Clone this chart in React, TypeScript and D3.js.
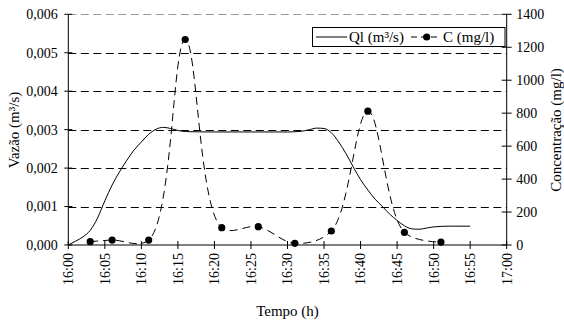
import React from "react";
import * as d3 from "d3";

// Time axis ticks (minutes after 16:00) and labels
const xTickMinutes = [0, 5, 10, 15, 20, 25, 30, 35, 40, 45, 50, 55, 60];
const xTickLabels = ["16:00", "16:05", "16:10", "16:15", "16:20", "16:25", "16:30", "16:35", "16:40", "16:45", "16:50", "16:55", "17:00"];

// Left axis ticks (flow)
const qTicks = [0, 0.001, 0.002, 0.003, 0.004, 0.005, 0.006];
const qTickLabels = ["0,000", "0,001", "0,002", "0,003", "0,004", "0,005", "0,006"];

// Right axis ticks (concentration)
const cTicks = [0, 200, 400, 600, 800, 1000, 1200, 1400];

// Series Ql (m³/s): minutes after 16:00
const qMinutes = [0, 1, 2, 3, 4, 5, 6, 7, 8, 9, 10, 11, 12, 13, 14, 15, 16, 20, 25, 30, 32, 33, 34, 35, 36, 37, 38, 39, 40, 41, 42, 43, 44, 45, 46, 47, 48, 49, 50, 52, 55];
const qValues = [0, 0.0001, 0.00021, 0.00038, 0.0007, 0.00115, 0.00156, 0.0019, 0.0022, 0.00247, 0.00268, 0.00288, 0.00301, 0.00306, 0.00303, 0.00298, 0.00295, 0.00294, 0.00294, 0.00294, 0.00296, 0.003, 0.00304, 0.00303, 0.00292, 0.00268, 0.00238, 0.00203, 0.0017, 0.00143, 0.00119, 0.001, 0.0008, 0.00064, 0.0005, 0.00042, 0.00041, 0.00044, 0.00047, 0.00049, 0.00049];

// Series C (mg/l)
const cMinutes = [3, 6, 11, 16, 21, 26, 31, 36, 41, 46, 51];
const cValues = [20, 30, 30, 1247, 105, 111, 10, 85, 812, 77, 18];

const W = 564;
const H = 322;
const L = 68.3;
const R = 506.7;
const T = 14.3;
const B = 245;
const FONT = "Liberation Serif, DejaVu Serif, serif";

export default function App() {
  const x = d3.scaleLinear().domain([0, 60]).range([L, R]);
  const yQ = d3.scaleLinear().domain([0, 0.006]).range([B, T]);
  const yC = d3.scaleLinear().domain([0, 1400]).range([B, T]);

  const qLine = d3
    .line<number>()
    .x((_, i) => x(qMinutes[i]))
    .y((d) => yQ(d))
    .curve(d3.curveMonotoneX);
  const cLine = d3
    .line<number>()
    .x((_, i) => x(cMinutes[i]))
    .y((d) => yC(d))
    .curve(d3.curveCatmullRom.alpha(0.5));

  const ts = { fontFamily: FONT };

  return (
    <svg
      width={W}
      height={H}
      style={{ position: "absolute", left: 0, top: 0, background: "#fff", fontFamily: FONT }}
    >
      <rect x={0} y={0} width={W} height={H} fill="#fff" />
      {/* gridlines */}
      {qTicks.slice(1).map((t, i) => (
        <line
          key={"g" + i}
          x1={L}
          x2={R}
          y1={Math.round(yQ(t)) + 0.5}
          y2={Math.round(yQ(t)) + 0.5}
          stroke={t === 0.006 ? "#999" : "#000"}
          strokeWidth={1}
          strokeDasharray="8,4.5"
        />
      ))}
      {/* axes */}
      <line x1={L} x2={L} y1={T} y2={B} stroke="#000" />
      <line x1={R} x2={R} y1={T} y2={B} stroke="#000" />
      <line x1={L} x2={R} y1={B} y2={B} stroke="#000" />
      {/* left ticks */}
      {qTicks.map((t, i) => (
        <g key={"lq" + i}>
          <line x1={L - 4} x2={L + 4} y1={yQ(t)} y2={yQ(t)} stroke="#000" />
          <text x={L - 10.5} y={yQ(t)} dy="0.35em" textAnchor="end" fontSize={14} style={ts}>
            {qTickLabels[i]}
          </text>
        </g>
      ))}
      {/* right ticks */}
      {cTicks.map((t, i) => (
        <g key={"rc" + i}>
          <line x1={R - 5} x2={R + 5} y1={yC(t)} y2={yC(t)} stroke="#000" />
          <text x={R + 9.5} y={yC(t)} dy="0.35em" textAnchor="start" fontSize={14} style={ts}>
            {t}
          </text>
        </g>
      ))}
      {/* bottom ticks */}
      {xTickMinutes.map((m, i) => (
        <g key={"bx" + i}>
          <line x1={x(m)} x2={x(m)} y1={B - 4} y2={B + 4} stroke="#000" />
          <text
            transform={`translate(${x(m)},${B + 8}) rotate(-90)`}
            dy="0.35em"
            textAnchor="end"
            fontSize={14}
            style={ts}
          >
            {xTickLabels[i]}
          </text>
        </g>
      ))}
      {/* series */}
      <path d={qLine(qValues) || ""} fill="none" stroke="#000" strokeWidth={1} />
      <path d={cLine(cValues) || ""} fill="none" stroke="#000" strokeWidth={1} strokeDasharray="8,5" />
      {cValues.map((v, i) => (
        <circle key={"c" + i} cx={x(cMinutes[i])} cy={yC(v)} r={3.6} fill="#000" />
      ))}
      {/* axis titles */}
      <text transform={`translate(19,130) rotate(-90)`} textAnchor="middle" fontSize={15} style={ts}>
        Vazão (m³/s)
      </text>
      <text transform={`translate(561,130) rotate(-90)`} textAnchor="middle" fontSize={15} style={ts}>
        Concentração (mg/l)
      </text>
      <text x={287.5} y={316} textAnchor="middle" fontSize={15} style={ts}>
        Tempo (h)
      </text>
      {/* legend */}
      <rect x={312.5} y={27.5} width={192.5} height={19} fill="#fff" stroke="#000" />
      <line x1={316} x2={347} y1={37} y2={37} stroke="#000" />
      <text x={349} y={37} dy="0.35em" fontSize={15} style={ts}>
        Ql (m³/s)
      </text>
      <line x1={411} x2={438} y1={37} y2={37} stroke="#000" strokeDasharray="6,4" />
      <circle cx={426.7} cy={37} r={3.6} fill="#000" />
      <text x={443} y={37} dy="0.35em" fontSize={15} style={ts}>
        C (mg/l)
      </text>
    </svg>
  );
}
